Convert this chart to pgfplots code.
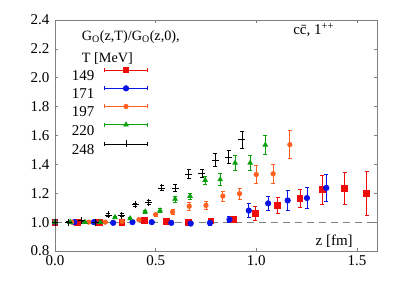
\documentclass[border=0pt]{standalone}
\usepackage{pgfplots}
\pgfplotsset{compat=1.18}
\usepackage{fontspec}
\setmainfont{Liberation Serif}
\definecolor{cred}{RGB}{240,10,10}
\definecolor{cblue}{RGB}{10,20,230}
\definecolor{corange}{RGB}{255,96,32}
\definecolor{cgreen}{RGB}{10,160,10}
\definecolor{cgray}{RGB}{128,128,128}
\newcommand{\fs}{\fontsize{15bp}{18bp}\selectfont}
\newcommand{\fst}{\fontsize{14.2bp}{17bp}\selectfont}
\begin{document}
\begin{tikzpicture}
\path[use as bounding box] (-55bp,-34bp) rectangle (352bp,251bp);
\begin{axis}[
  at={(0,0)}, anchor=south west,
  scale only axis, width=322bp, height=231bp,
  xmin=0, xmax=1.6, ymin=0.8, ymax=2.4,
  xtick={0,0.5,1.0,1.5}, ytick={0.8,1.0,...,2.4},
  ticklabel style={font=\fs},
  xticklabel style={yshift=-1bp, /pgf/number format/.cd, fixed, fixed zerofill, precision=1},
  yticklabel style={xshift=-2bp, /pgf/number format/.cd, fixed, fixed zerofill, precision=1},
  /pgf/number format/assume math mode=true,
  tick align=inside, major tick length=3bp,
  axis line style={cgray, line width=0.8pt},
  tick style={cgray, line width=0.6pt},
  legend plot pos=right,
  legend cell align=right,
  legend style={draw=none, fill=none, at={(0.041,0.797)}, anchor=north west,
    inner sep=0pt, row sep=4.2bp,
    nodes={inner sep=1bp, text height=10.5bp, text depth=0bp, font=\fs},
    /tikz/every odd column/.append style={column sep=8.7bp, text width=25bp, align=right}},
  legend image code/.code={
    \draw[mark=none,#1] (0bp,5.25bp) -- (43bp,5.25bp);
    \draw[mark=none,#1] (0bp,3.25bp) -- (0bp,7.25bp) (43bp,3.25bp) -- (43bp,7.25bp);
    \draw[#1] plot[only marks] coordinates {(21.5bp,5.25bp)};
  },
  every axis plot/.append style={line width=0.8pt},
  error bars/error bar style={line width=0.8pt},
  error bars/error mark options={rotate=90, mark size=2pt, line width=0.8pt},
]
\addplot[cgray, dashed, dash pattern=on 7bp off 5bp, line width=1.2pt, forget plot] coordinates {(0,1) (1.6,1)};

\addplot[cred, only marks, mark=square*, mark size=2.9pt,
  error bars/.cd, y dir=both, y explicit] table[x=x, y=y, y error=e] {
x y e
0 1.0 0.003
0.111 1.0 0.004
0.221 1.0 0.005
0.332 1.0 0.006
0.443 1.01 0.008
0.553 1.005 0.01
0.664 1.0 0.012
0.775 1.008 0.015
0.885 1.02 0.022
0.996 1.06 0.046
1.107 1.116 0.057
1.217 1.167 0.062
1.328 1.225 0.10
1.439 1.232 0.11
1.549 1.2 0.153
};
\addlegendentry{149}

\addplot[cblue, only marks, mark=*, mark size=2.7pt,
  error bars/.cd, y dir=both, y explicit] table[x=x, y=y, y error=e] {
x y e
0 1.0 0.003
0.096 1.0 0.003
0.193 1.0 0.004
0.289 0.995 0.005
0.385 1.0 0.006
0.481 1.0 0.007
0.578 0.995 0.009
0.674 0.99 0.011
0.770 0.995 0.015
0.867 1.017 0.02
0.963 1.08 0.048
1.059 1.13 0.05
1.156 1.15 0.07
1.252 1.167 0.074
1.348 1.237 0.096
};
\addlegendentry{171}

\addplot[corange, only marks, mark=*, mark size=2.2pt,
  error bars/.cd, y dir=both, y explicit] table[x=x, y=y, y error=e] {
x y e
0 1.0 0.002
0.083 1.0 0.003
0.167 1.0 0.004
0.250 1.0 0.005
0.334 1.005 0.006
0.417 1.017 0.008
0.500 1.052 0.01
0.584 1.07 0.015
0.667 1.11 0.03
0.750 1.116 0.03
0.834 1.18 0.035
0.917 1.197 0.04
1.000 1.33 0.065
1.084 1.335 0.066
1.167 1.537 0.095
};
\addlegendentry{197}

\addplot[cgreen, only marks, mark=triangle*, mark size=2.6pt,
  error bars/.cd, y dir=both, y explicit] table[x=x, y=y, y error=e] {
x y e
0 1.0 0.002
0.075 1.0 0.003
0.149 1.0 0.004
0.224 1.0 0.005
0.298 1.033 0.006
0.373 1.025 0.008
0.448 1.072 0.01
0.522 1.08 0.012
0.597 1.16 0.02
0.671 1.18 0.02
0.746 1.29 0.03
0.821 1.295 0.04
0.895 1.41 0.05
0.970 1.41 0.05
1.045 1.535 0.065
};
\addlegendentry{220}

\addplot[black, only marks, mark=+, mark size=3.5pt,
  error bars/.cd, y dir=both, y explicit] table[x=x, y=y, y error=e] {
x y e
0 1.0 0.003
0.066 1.0 0.004
0.133 1.01 0.005
0.199 1.0 0.006
0.265 1.05 0.008
0.332 1.047 0.01
0.398 1.12 0.012
0.465 1.137 0.015
0.531 1.237 0.02
0.597 1.237 0.022
0.664 1.333 0.03
0.730 1.338 0.03
0.796 1.43 0.045
0.863 1.45 0.045
0.929 1.57 0.06
};
\addlegendentry{248}

\node[anchor=base west, inner sep=0pt, font=\fst] at (axis cs:0.133,2.259) {G\textsubscript{O}(z,T)/G\textsubscript{O}(z,0),};
\node[anchor=base west, inner sep=0pt, font=\fst] at (axis cs:0.133,2.107) {T [MeV]};
\node[anchor=base west, inner sep=0pt, font=\fs] at (axis cs:1.183,2.298) {c\={c}, 1\textsuperscript{++}};
\node[anchor=base west, inner sep=0pt, font=\fs] at (axis cs:1.294,0.841) {z [fm]};
\end{axis}
\end{tikzpicture}
\end{document}
